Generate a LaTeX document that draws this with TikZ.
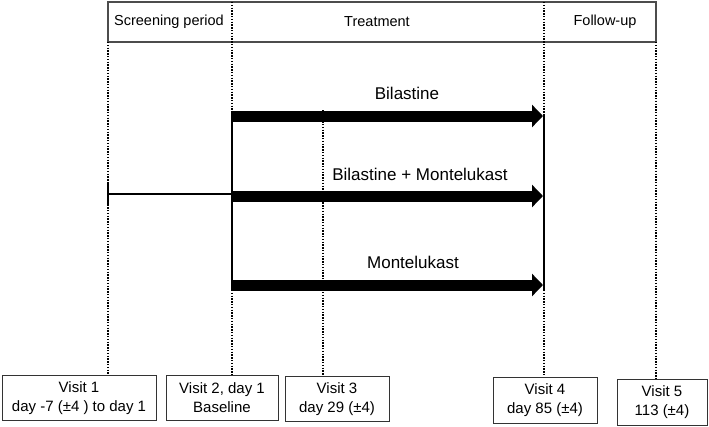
\documentclass[tikz,border=0pt]{standalone}
\usepackage{fontspec}
\setmainfont{Liberation Sans}
\usetikzlibrary{arrows.meta, positioning}

\begin{document}
\begin{tikzpicture}[x=1pt, y=-1pt,
	visit/.style={draw=black!80, line width=1pt, align=center, inner sep=0pt, minimum height=45pt, font=\fontsize{15}{19}\selectfont},
	drug/.style={line width=11pt, -{Triangle[length=11pt, width=22pt]}},
	druglabel/.style={font=\fontsize{17}{20}\selectfont},
	phase/.style={font=\fontsize{14.5}{17}\selectfont},
	dots/.style={line width=1.4pt, dash pattern=on 1.4pt off 1.4pt},
	bar/.style={line width=1.8pt}]

	\useasboundingbox (0,0) rectangle (709,426);

	\draw[draw=black!70, line width=1.2pt] (108,2) rectangle (656,42);
	\node[phase] (scr) at (169,22) {Screening period};
	\node[phase] (trt) at (377,22) {Treatment};
	\node[phase] (fup) at (605,22) {Follow-up};

	\node[visit, minimum width=154pt] (v1) at (79,398) {Visit 1\\day -7 (±4 ) to day 1};
	\node[visit, minimum width=112pt] (v2) at (222,397.5) {Visit 2, day 1\\Baseline};
	\node[visit, minimum width=104pt] (v3) at (337,399) {Visit 3\\day 29 (±4)};
	\node[visit, minimum width=104pt, minimum height=46pt] (v4) at (545,400) {Visit 4\\day 85 (±4)};
	\node[visit, minimum width=90pt, minimum height=46pt] (v5) at (662,402) {Visit 5\\113 (±4)};

	\coordinate (t1) at (108,42);
	\coordinate (t2) at (232,2);
	\coordinate (t3) at (323,110);
	\coordinate (t4) at (544,2);
	\coordinate (t5) at (656,42);
	\coordinate (m1) at (108,194);

	\coordinate (a1) at (232,116);
	\coordinate (a2) at (232,196);
	\coordinate (a3) at (232,285);
	\coordinate (b1) at (543,116);
	\coordinate (b2) at (543,196);
	\coordinate (b3) at (543,285);
	\coordinate (up2) at (232,110.5);
	\coordinate (lo2) at (232,290);
	\coordinate (up4) at (544,115);
	\coordinate (lo4) at (544,290);

	\draw[dots] (t1) -- (t1 |- v1.north);
	\draw[dots] (t2) -- (up2);
	\draw[dots] (lo2) -- (t2 |- v2.north);
	\draw[dots] (t3) -- (t3 |- v3.north);
	\draw[dots] (t4) -- (up4);
	\draw[dots] (lo4) -- (t4 |- v4.north);
	\draw[dots] (t5) -- (t5 |- v5.north);

	\draw[bar] (up2) -- (lo2);
	\draw[bar] (up4) -- (lo4);
	\draw[line width=1.3pt] (m1) -- (m1 -| a2);
	\draw[line width=1.5pt] ([yshift=12pt]m1) -- ([yshift=-12pt]m1);

	\draw[drug] (a1) -- (b1);
	\draw[drug] (a2) -- (b2);
	\draw[drug] (a3) -- (b3);

	\node[druglabel] (l1) at (407,93) {Bilastine};
	\node[druglabel] (l2) at (420,174) {Bilastine + Montelukast};
	\node[druglabel] (l3) at (413,262) {Montelukast};
\end{tikzpicture}
\end{document}
